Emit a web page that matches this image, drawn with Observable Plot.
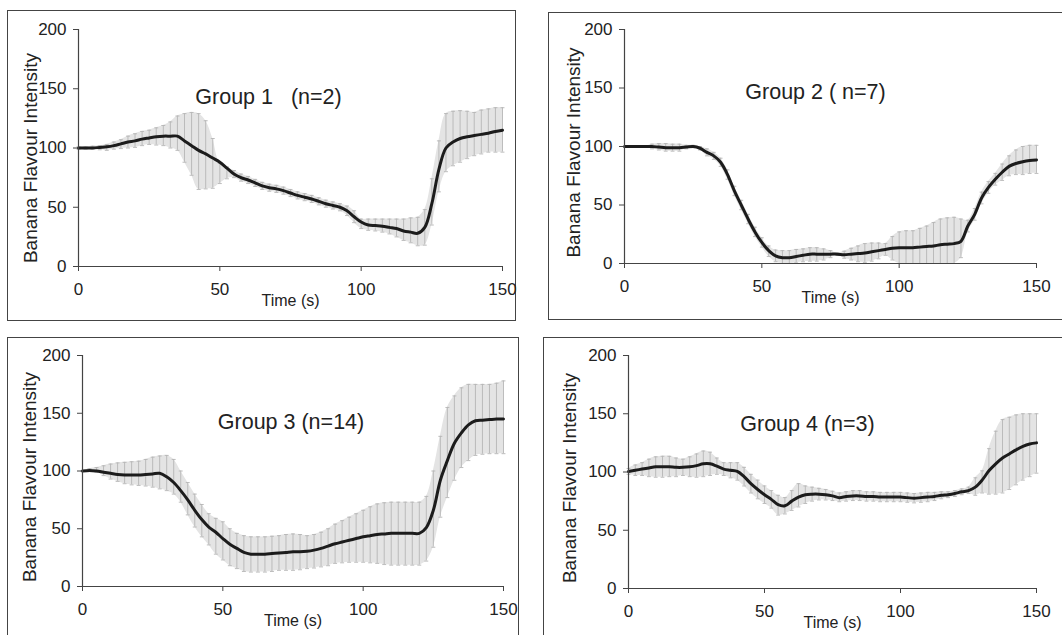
<!DOCTYPE html>
<html>
<head>
<meta charset="utf-8">
<script src="https://cdn.jsdelivr.net/npm/d3@7"></script>
<script src="https://cdn.jsdelivr.net/npm/@observablehq/plot@0.6"></script>
<style>
  html, body { margin: 0; padding: 0; background: #fff; }
  #page { position: relative; width: 1062px; height: 635px; overflow: hidden; background: #fff;
          font-family: "Liberation Sans", Arial, sans-serif; }
  .box { position: absolute; border: 1.5px solid #444; box-sizing: border-box; }
  .panel { position: absolute; }
</style>
</head>
<body>
<div id="page"></div>
<script>
// ---------- DATA ----------
const times = [0,2.5,5,7.5,10,12.5,15,17.5,20,22.5,25,27.5,30,32.5,35,37.5,40,42.5,45,47.5,50,52.5,55,57.5,60,62.5,65,67.5,70,72.5,75,77.5,80,82.5,85,87.5,90,92.5,95,97.5,100,102.5,105,107.5,110,112.5,115,117.5,120,122.5,125,127.5,130,132.5,135,137.5,140,142.5,145,147.5,150];

const xTicks = [0, 50, 100, 150];
const yTicks = [0, 50, 100, 150, 200];
const xLabel = "Time (s)";
const yLabel = "Banana Flavour Intensity";
const titles = ["Group 1\u00a0\u00a0 (n=2)", "Group 2 ( n=7)", "Group 3 (n=14)", "Group 4 (n=3)"];

const g1Mean = [100,100,100,100.5,101,102,103.5,105,106,107.5,108.5,109.5,110,110,110,106,102,98,95,91.5,88,83,78,75,73,70.5,68,66.5,65.5,64,62,60,58.5,57,55,53,51.5,50,47,42,37.5,35,34.5,34,33,32,30,29,28,33,53,82,100,105,108,109.5,110.5,111.5,112.5,114,115];
const g1Lo = [99,99,99,98.5,98,99,99.5,100,100.5,102,103,102.5,102,100,98,88,77,65,65.5,66,70,74,75,72,70,67.5,65,63.5,62.5,61,59,57,55.5,54,52,50,48.5,47,43,37,32,30.5,30,29,27.5,25,22,20,17.5,18,35,63,80,85,88,91,93.5,95,96.5,96.5,96.5];
const g1Hi = [101,101,101.5,102,103,105,107,110,112,114,115,117,119,122,127,129,130,129,123,108,87,84,81,78,76,73.5,71,69.5,68.5,67,65,63,61.5,60,58,56,54.5,53,51,47,40,40,40,40,40,40,40,41,41.5,48,74,106,129,131,131.5,131,130,132,133,134,134];

const g2Mean = [100,100,100,100,100,99.5,99,99,99,99.5,100,98.5,95,92,86.5,76,62,50,38,27,18,11,6.5,5,5,6,7,8,8,8,8,8,7.5,8,8.5,9,10,11,12,13,13.5,13.5,13.5,14,14.5,15,16,16.5,17,19,32,42,56,65,72,78,83,85.5,87,88,88.5];
const g2Lo = [100,100,100,100,98,97,96,96,96,98,99,97,92,89,83,72,58,46,34,23,14,6,1.5,0,0,0.5,1.5,2,2,3,5,7,4.5,3,1.5,1,2,4,7,3,0,0,0,0,0,0,0,0,0,5,27,37,51,60,67,71,75,76,76,77,77];
const g2Hi = [100,100,100,100,102,102.5,102.5,102,102,101,101,100,98,95,90,80,66,54,42,31,22,15,11.5,11,11,12,12.5,13.5,13.5,12.5,11,9,10.5,13,15,17,17.5,17.5,17,23,27,28,28,30,32,35,38,39,39.5,38,37,47,61,70,77,85,92,97,100,101,101];

const g3Mean = [100,100.5,100,99,98,97,96.5,96.5,96.5,97,97.5,98,95,90,83,75,66,58,51.5,47,41.5,36.5,33,29.5,28,28,28,28.5,29,29.5,30,30,30.5,31.5,33,35,37,38.5,40,41.5,43,44,45,45.5,46,46,46,46,46,51,66,92,109,124,133,140,143.5,144,144.5,145,145];
const g3Lo = [100,99.5,99,96,93,91,89,88,87.5,87,86,84.5,83,80,73,62,51.5,43,36,28,23,18,15.5,13,12.5,12.5,12.5,13,14,14,14,14.5,15.5,16,17,18,20,20.5,21,21,21,20.5,20,19,18.5,18.5,18.5,18.5,18.5,22,34,60,77,92,103,109,113.5,114.5,115,115,115];
const g3Hi = [100,102,103,104.5,106,107,107.5,108,108.5,110,112,113,113.5,110,100,90,80,71,63,59,56,50,46,44,43,43,43,43.5,44,45,45.5,45,44,45,47,50,54,57,60,63,66,69,71.5,72.5,73,73,73,73,73,78,100,130,155,165,172,175,175,175,175,176,178];

const g4Mean = [100.5,101.5,102.5,103.5,104.5,104.5,104.5,104,104,104.5,105.5,107,107,105,102.5,101.5,100.5,96,90,85,80.5,76.5,72,71,75,78.5,80.5,81,81,80.5,79.5,78,79,79.5,79.5,79,79,78.5,78.5,78.5,78.5,78,77.5,78,78.5,79,80,80.5,81.5,83,84,87,93,101,107,112,115.5,119,122,124,125];
const g4Lo = [98,97,97,96,95.5,95.5,96,96,97,96,95.5,96,97,98,97,95,93,88,82,77,73,69,63,64,67,70,73,75,76,76,75.5,74.5,75,75.5,75.5,75,75,74.5,74.5,74.5,74.5,74,73.5,74,74.5,75.5,77,78,79,80.5,81.5,80,82,81,81,82,85,89,93,96,99];
const g4Hi = [103,106,108,111,113,113.5,113.5,112,111,113,115.5,118,117,112,108,108,108,104,98,93,88,84,80,78,84,90,88,87,86,85,83.5,82,83,84,84,83,83,82.5,82.5,82.5,82.5,82,81.5,82,82.5,82.5,83,83,84,85.5,87,95,101,120,135,145,147,149,150,150,150];

// ---------- LAYOUT ----------
const page = document.getElementById("page");

const boxes = [
  {left: 7, top: 10, width: 509, height: 311},
  {left: 548, top: 12, width: 530, height: 308},
  {left: 7, top: 337, width: 512, height: 320},
  {left: 543, top: 337, width: 530, height: 320}
];
boxes.forEach(b => {
  const d = document.createElement("div");
  d.className = "box";
  Object.assign(d.style, {left: b.left + "px", top: b.top + "px", width: b.width + "px", height: b.height + "px"});
  page.appendChild(d);
});

const panels = [
  {mean: g1Mean, lo: g1Lo, hi: g1Hi, left: 0, top: 0, width: 530, height: 318,
   mL: 78, mR: 28, mT: 29, mB: 52, tdx: -22, tdy: 59, ldx: -48, ldy: 10},
  {mean: g2Mean, lo: g2Lo, hi: g2Hi, left: 530, top: 0, width: 532, height: 318,
   mL: 94, mR: 26, mT: 29, mB: 55, tdx: -15, tdy: 54, ldx: -51, ldy: 6},
  {mean: g3Mean, lo: g3Lo, hi: g3Hi, left: 0, top: 318, width: 530, height: 317,
   mL: 82, mR: 27, mT: 37, mB: 49, tdx: -2, tdy: 58, ldx: -53, ldy: 6},
  {mean: g4Mean, lo: g4Lo, hi: g4Hi, left: 530, top: 318, width: 532, height: 317,
   mL: 98, mR: 26, mT: 37, mB: 47, tdx: -25, tdy: 60, ldx: -59, ldy: 6}
];

panels.forEach((p, i) => {
  const data = times.map((t, k) => ({t, mean: p.mean[k], lo: p.lo[k], hi: p.hi[k]}));
  const chart = Plot.plot({
    width: p.width,
    height: p.height,
    marginLeft: p.mL, marginRight: p.mR, marginTop: p.mT, marginBottom: p.mB,
    style: {background: "transparent", fontFamily: "'Liberation Sans', Arial, sans-serif", color: "#222", overflow: "visible"},
    x: {domain: [0, 150]},
    y: {domain: [0, 200]},
    marks: [
      Plot.areaY(data, {x: "t", y1: "lo", y2: "hi", fill: "#e4e4e4", curve: "catmull-rom"}),
      Plot.ruleX(data, {x: "t", y1: "lo", y2: "hi", stroke: "#b5b5b5", strokeWidth: 0.9}),
      Plot.link(data, {x1: d => d.t - 0.7, x2: d => d.t + 0.7, y1: "hi", y2: "hi", stroke: "#b5b5b5", strokeWidth: 0.9}),
      Plot.link(data, {x1: d => d.t - 0.7, x2: d => d.t + 0.7, y1: "lo", y2: "lo", stroke: "#b5b5b5", strokeWidth: 0.9}),
      Plot.line(data, {x: "t", y: "mean", stroke: "#1c1c1c", strokeWidth: 3, curve: "catmull-rom"}),
      Plot.ruleY([0], {stroke: "#444", strokeWidth: 1.2}),
      Plot.ruleX([0], {stroke: "#444", strokeWidth: 1.2}),
      Plot.axisY({ticks: yTicks, tickSize: 5, tickPadding: 7, fontSize: 17, label: null, stroke: "#444"}),
      Plot.axisX({ticks: xTicks, tickSize: 5, tickPadding: 11, fontSize: 17, label: null, stroke: "#444"}),
      Plot.text([xLabel], {frameAnchor: "bottom", dy: 39, fontSize: 16, fill: "#222"}),
      Plot.text([yLabel], {frameAnchor: "left", textAnchor: "middle", dx: p.ldx, dy: p.ldy, rotate: -90, fontSize: 19, fill: "#222"}),
      Plot.text([titles[i]], {frameAnchor: "top", dx: p.tdx, dy: p.tdy, fontSize: 21.5, fill: "#222"})
    ]
  });
  chart.classList.add("panel");
  chart.style.left = p.left + "px";
  chart.style.top = p.top + "px";
  page.appendChild(chart);
});
</script>
</body>
</html>
